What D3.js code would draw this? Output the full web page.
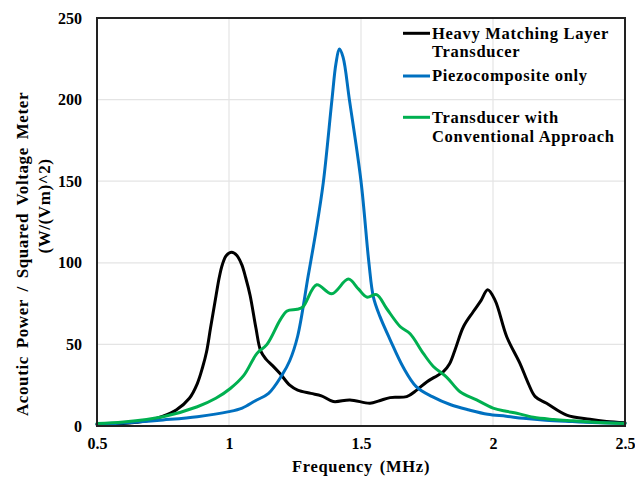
<!DOCTYPE html>
<html><head><meta charset="utf-8">
<script src="https://cdn.jsdelivr.net/npm/d3@7"></script>
<style>
html,body{margin:0;padding:0;background:#fff;}
text{font-family:"Liberation Serif","Times New Roman",serif;font-weight:bold;fill:#000;}
</style></head>
<body><svg id="chart" width="635" height="477"></svg>
<script>
// ---- data ----
const heavyFreq = [0.5,0.6,0.65,0.7,0.75,0.8,0.85,0.88,0.9,0.915,0.93,0.951,0.963,0.975,0.99,1.01,1.03,1.048,1.063,1.08,1.102,1.12,1.14,1.165,1.194,1.23,1.26,1.31,1.35,1.395,1.458,1.534,1.57,1.61,1.673,1.711,1.749,1.79,1.812,1.835,1.856,1.888,1.925,1.955,1.98,2.008,2.052,2.102,2.134,2.16,2.203,2.279,2.367,2.43,2.5];
const heavyVal  = [1,1.5,2.3,3.5,6,9.8,17,26,36,45.5,60,80,91,99,104.5,106.5,104.5,99,91,80,60,46,41,37,32,25,22,20,18.5,15,16,14,15.5,17.4,18,22,27,31,33.3,38,46.6,60.8,70,77,83.5,77,54.7,38.4,26,18,13.9,6.7,4.1,2.8,2];
const piezoFreq = [0.5,0.6,0.75,0.88,1.0,1.05,1.1,1.15,1.2,1.23,1.26,1.3,1.33,1.357,1.39,1.405,1.418,1.432,1.456,1.5,1.53,1.547,1.572,1.61,1.66,1.71,1.77,1.84,1.91,1.98,2.05,2.115,2.2,2.3,2.4,2.5];
const piezoVal  = [1,1.8,3.7,5.7,8.8,11,15.5,20,31,40,55,92,120,149,200,222,231,226,200,150,100,79,67,53,36,24,18,13,9.8,7.2,6,4.7,3.5,2.7,2,1.5];
const convFreq  = [0.5,0.6,0.75,0.88,0.95,1.005,1.056,1.106,1.144,1.194,1.22,1.258,1.28,1.332,1.389,1.452,1.49,1.522,1.559,1.597,1.648,1.686,1.736,1.774,1.824,1.875,1.938,2.0,2.05,2.09,2.153,2.23,2.304,2.4,2.5];
const convVal   = [1.6,2.5,5.7,11.8,17,23,31,44.5,50,65,70.5,71.5,73,86.5,81,90,84,79,80.5,72,61,56.5,44.5,36.5,30,21,16,11,9,7.8,5.3,4,3.2,2.2,1.6];
const seriesNames = ["Heavy Matching Layer Transducer","Piezocomposite only","Transducer with Conventional Approach"];
const legendLines = [["Heavy Matching Layer","Transducer"],["Piezocomposite only"],["Transducer with","Conventional Approach"]];
const seriesColors = ["#000000","#0070C0","#00B050"];
const xTicks = [0.5,1,1.5,2,2.5];
const xTickLabels = ["0.5","1","1.5","2","2.5"];
const yTicks = [0,50,100,150,200,250];
const xTitle = "Frequency (MHz)";
const yTitle1 = "Acoutic Power / Squared Voltage Meter";
const yTitle2 = "(W/(Vm)^2)";

const series = [
  {name: seriesNames[0], color: seriesColors[0], pts: heavyFreq.map((f,i)=>[f,heavyVal[i]])},
  {name: seriesNames[1], color: seriesColors[1], pts: piezoFreq.map((f,i)=>[f,piezoVal[i]])},
  {name: seriesNames[2], color: seriesColors[2], pts: convFreq.map((f,i)=>[f,convVal[i]])}
];

// ---- layout ----
const W = 635, H = 477;
const m = {left: 97, top: 18, right: 10, bottom: 51};
const svg = d3.select("#chart");
const x = d3.scaleLinear().domain([0.5,2.5]).range([m.left, W - m.right]);
const y = d3.scaleLinear().domain([0,250]).range([H - m.bottom, m.top]);

// grid
const g = svg.append("g");
g.selectAll(".vg").data(xTicks.slice(1,-1)).join("line")
  .attr("x1", d=>x(d)).attr("x2", d=>x(d)).attr("y1", y(0)).attr("y2", y(250))
  .attr("stroke", "#e4e4e4").attr("stroke-width", 1.2);
g.selectAll(".hg").data(yTicks.slice(1,-1)).join("line")
  .attr("x1", x(0.5)).attr("x2", x(2.5)).attr("y1", d=>y(d)).attr("y2", d=>y(d))
  .attr("stroke", "#e4e4e4").attr("stroke-width", 1.2);

// axes (labels only)
const xAxis = d3.axisBottom(x).tickValues(xTicks).tickFormat((d,i)=>xTickLabels[i]).tickSize(0).tickPadding(12);
svg.append("g").attr("transform", `translate(0,${y(0)})`).call(xAxis)
  .call(a=>a.select(".domain").remove())
  .selectAll("text").attr("font-size", 16).attr("font-family", "Liberation Serif").attr("font-weight", "bold");
const yAxis = d3.axisLeft(y).tickValues(yTicks).tickSize(0).tickPadding(15);
svg.append("g").attr("transform", `translate(${x(0.5)},0)`).call(yAxis)
  .call(a=>a.select(".domain").remove())
  .selectAll("text").attr("font-size", 16).attr("font-family", "Liberation Serif").attr("font-weight", "bold");

// lines
const line = d3.line().x(d=>x(d[0])).y(d=>y(d[1])).curve(d3.curveCatmullRom.alpha(0.5));
svg.append("g").selectAll("path").data(series).join("path")
  .attr("d", d=>line(d.pts)).attr("fill","none")
  .attr("stroke", d=>d.color).attr("stroke-width", 3)
  .attr("stroke-linejoin","round").attr("stroke-linecap","round");

// frame
svg.append("rect").attr("x", x(0.5)).attr("y", y(250))
  .attr("width", x(2.5)-x(0.5)).attr("height", y(0)-y(250))
  .attr("fill","none").attr("stroke","#222").attr("stroke-width",2);

// titles
svg.append("text").attr("x", (x(0.5)+x(2.5))/2).attr("y", 472)
  .attr("text-anchor","middle").attr("font-size",16.5).attr("letter-spacing",0.7).attr("word-spacing",2).text(xTitle);
svg.append("text").attr("transform","translate(28,254) rotate(-90)")
  .attr("text-anchor","middle").attr("font-size",17).attr("letter-spacing",0.6).attr("word-spacing",3).text(yTitle1);
svg.append("text").attr("transform","translate(50,206) rotate(-90)")
  .attr("text-anchor","middle").attr("font-size",17).attr("letter-spacing",0.6).text(yTitle2);

// legend
const legY = [[39.3,57.3],[81],[122.7,141.7]];
const legLineY = [33.3,76,117.3];
const lg = svg.append("g");
series.forEach((s,i)=>{
  lg.append("line").attr("x1",403).attr("x2",430).attr("y1",legLineY[i]).attr("y2",legLineY[i])
    .attr("stroke", s.color).attr("stroke-width",3);
  legendLines[i].forEach((t,j)=>{
    lg.append("text").attr("x",432).attr("y",legY[i][j]).attr("font-size",16.5)
      .attr("letter-spacing",0.7).text(t);
  });
});
</script></body></html>
